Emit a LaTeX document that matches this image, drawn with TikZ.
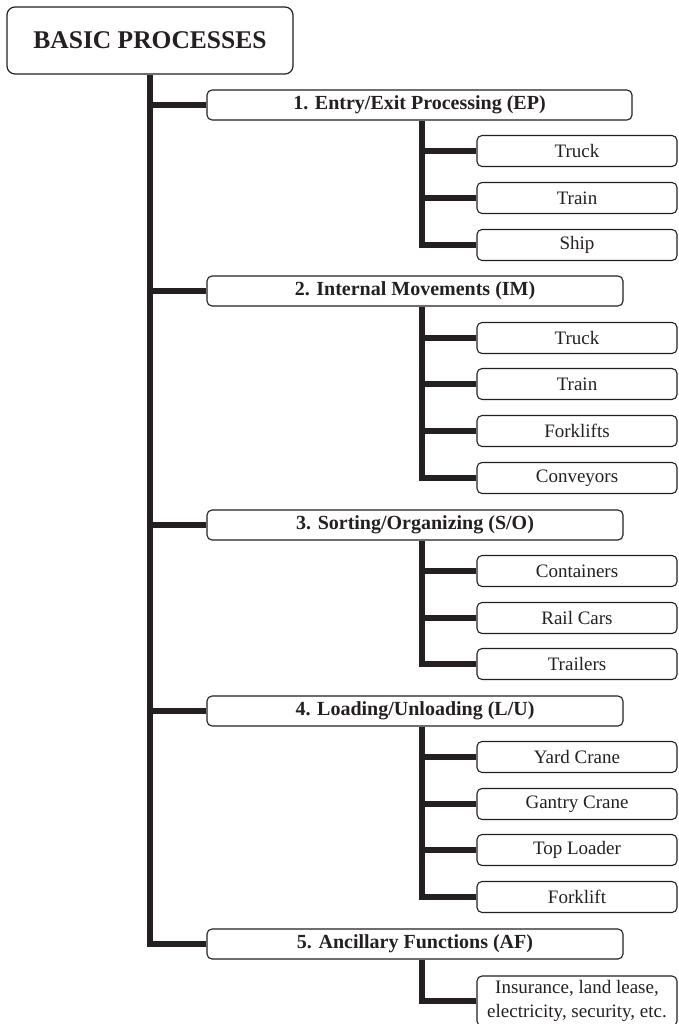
\documentclass[tikz,border=0pt]{standalone}
\usepackage{fontspec}
\setmainfont{Liberation Serif}

\newlength{\du}
\setlength{\du}{1pt}
\definecolor{dialinecolor}{rgb}{0.14,0.12,0.13}

\tikzset{
  rootbox/.style={draw=dialinecolor, text=dialinecolor, line width=1.2\du,
    rounded corners=8\du, inner sep=0pt, minimum width=286\du, minimum height=67\du,
    font=\fontsize{25.5}{30}\selectfont\bfseries},
  procbox/.style={draw=dialinecolor, text=dialinecolor, line width=1.1\du,
    rounded corners=5\du, inner sep=0pt, minimum width=416\du, minimum height=30\du,
    font=\fontsize{20}{24}\selectfont\bfseries},
  itembox/.style={draw=dialinecolor, text=dialinecolor, line width=1.1\du,
    rounded corners=5\du, inner sep=0pt, minimum width=200\du, minimum height=31\du,
    align=center, font=\fontsize{19}{24}\selectfont},
  trunk/.style={draw=dialinecolor, line width=5.5\du, line join=miter},
}

\begin{document}
\begin{tikzpicture}
\pgftransformxscale{1.000000}
\pgftransformyscale{-1.000000}
\useasboundingbox (0\du,0\du) rectangle (678\du,1024\du);

% root
\node[rootbox] (basic) at (150\du,40.5\du){BASIC PROCESSES};

% processes
\node[procbox, minimum width=425\du] (ep) at (419.5\du,105\du){1. Entry/Exit Processing (EP)};
\node[procbox] (im) at (415\du,291\du){2. Internal Movements (IM)};
\node[procbox] (so) at (415\du,525\du){3. Sorting/Organizing (S/O)};
\node[procbox] (lu) at (415\du,711\du){4. Loading/Unloading (L/U)};
\node[procbox] (af) at (415\du,944\du){5. Ancillary Functions (AF)};

% EP
\node[itembox] (ep-truck) at (577\du,151\du){Truck};
\node[itembox] (ep-train) at (577\du,198\du){Train};
\node[itembox] (ep-ship) at (577\du,245\du){Ship};
% IM
\node[itembox] (im-truck) at (577\du,338\du){Truck};
\node[itembox] (im-train) at (577\du,384\du){Train};
\node[itembox] (im-fork) at (577\du,431\du){Forklifts};
\node[itembox] (im-conv) at (577\du,478\du){Conveyors};
% S/O
\node[itembox] (so-cont) at (577\du,571\du){Containers};
\node[itembox] (so-rail) at (577\du,618\du){Rail Cars};
\node[itembox] (so-trail) at (577\du,664\du){Trailers};
% L/U
\node[itembox] (lu-yard) at (577\du,757\du){Yard Crane};
\node[itembox] (lu-gantry) at (577\du,804\du){Gantry Crane};
\node[itembox] (lu-top) at (577\du,850\du){Top Loader};
\node[itembox] (lu-fork) at (577\du,897\du){Forklift};
% AF
\node[itembox, minimum height=50\du] (af-misc) at (577\du,1001\du){Insurance, land lease,\\electricity, security, etc.};

% main trunk
\draw[trunk] (basic.south) |- (af.west);
\draw[trunk] (basic.south |- ep.west) -- (ep.west);
\draw[trunk] (basic.south |- im.west) -- (im.west);
\draw[trunk] (basic.south |- so.west) -- (so.west);
\draw[trunk] (basic.south |- lu.west) -- (lu.west);

% sub trunks
\coordinate (subx) at (422\du,0\du);
\draw[trunk] (ep.south -| subx) |- (ep-ship.west);
\draw[trunk] (ep-truck.west -| subx) -- (ep-truck.west);
\draw[trunk] (ep-train.west -| subx) -- (ep-train.west);

\draw[trunk] (im.south -| subx) |- (im-conv.west);
\draw[trunk] (im-truck.west -| subx) -- (im-truck.west);
\draw[trunk] (im-train.west -| subx) -- (im-train.west);
\draw[trunk] (im-fork.west -| subx) -- (im-fork.west);

\draw[trunk] (so.south -| subx) |- (so-trail.west);
\draw[trunk] (so-cont.west -| subx) -- (so-cont.west);
\draw[trunk] (so-rail.west -| subx) -- (so-rail.west);

\draw[trunk] (lu.south -| subx) |- (lu-fork.west);
\draw[trunk] (lu-yard.west -| subx) -- (lu-yard.west);
\draw[trunk] (lu-gantry.west -| subx) -- (lu-gantry.west);
\draw[trunk] (lu-top.west -| subx) -- (lu-top.west);

\draw[trunk] (af.south -| subx) |- (af-misc.west);
\end{tikzpicture}
\end{document}
